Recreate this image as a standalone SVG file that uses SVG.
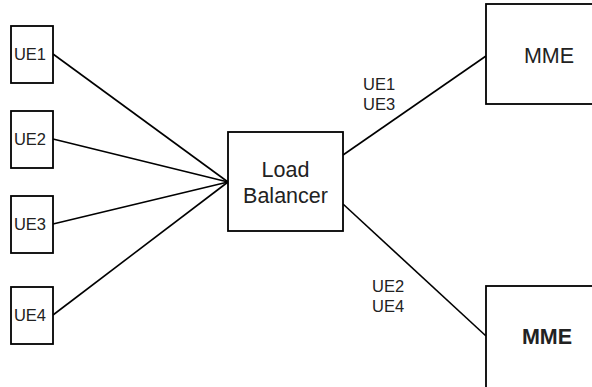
<svg xmlns="http://www.w3.org/2000/svg" width="592" height="387" viewBox="0 0 592 387">
  <style>
    .box { fill: #ffffff; stroke: #000000; stroke-width: 1.8; }
    .link { stroke: #000000; stroke-width: 1.6; fill: none; }
    .lbl { font-family: "Liberation Sans", Arial, sans-serif; fill: #222222; text-anchor: middle; }
    .ue { font-size: 16.5px; }
    .big { font-size: 21.5px; }
    .edge { font-family: "Liberation Sans", Arial, sans-serif; fill: #222222; font-size: 16.5px; }
  </style>
  <rect width="592" height="387" fill="#ffffff"/>
  <g id="connectors">
    <line class="link" x1="53" y1="54" x2="228" y2="182"/>
    <line class="link" x1="53" y1="139" x2="228" y2="182"/>
    <line class="link" x1="53" y1="224" x2="228" y2="182"/>
    <line class="link" x1="53" y1="315" x2="228" y2="182"/>
    <line class="link" x1="343" y1="155" x2="486" y2="56"/>
    <line class="link" x1="343" y1="204" x2="486" y2="336"/>
    <text class="edge" x="363" y="90">UE1</text>
    <text class="edge" x="363" y="110">UE3</text>
    <text class="edge" x="372" y="292">UE2</text>
    <text class="edge" x="372" y="312">UE4</text>
  </g>
  <g id="ue1">
    <rect class="box" x="11" y="26" width="42" height="57"/>
    <text class="lbl ue" x="30" y="60">UE1</text>
  </g>
  <g id="ue2">
    <rect class="box" x="11" y="111" width="42" height="57"/>
    <text class="lbl ue" x="30" y="145">UE2</text>
  </g>
  <g id="ue3">
    <rect class="box" x="11" y="196" width="42" height="57"/>
    <text class="lbl ue" x="30" y="230">UE3</text>
  </g>
  <g id="ue4">
    <rect class="box" x="11" y="287" width="42" height="57"/>
    <text class="lbl ue" x="30" y="321">UE4</text>
  </g>
  <g id="load-balancer">
    <rect class="box" x="228" y="132" width="115" height="99"/>
    <text class="lbl big" x="285.5" y="177">Load</text>
    <text class="lbl big" x="285.5" y="203">Balancer</text>
  </g>
  <g id="mme-top">
    <rect class="box" x="486" y="4" width="120" height="100"/>
    <text class="lbl big" x="549" y="63">MME</text>
  </g>
  <g id="mme-bottom">
    <rect class="box" x="486" y="286" width="120" height="110"/>
    <text class="lbl big" x="547" y="344" font-weight="bold">MME</text>
  </g>
</svg>
